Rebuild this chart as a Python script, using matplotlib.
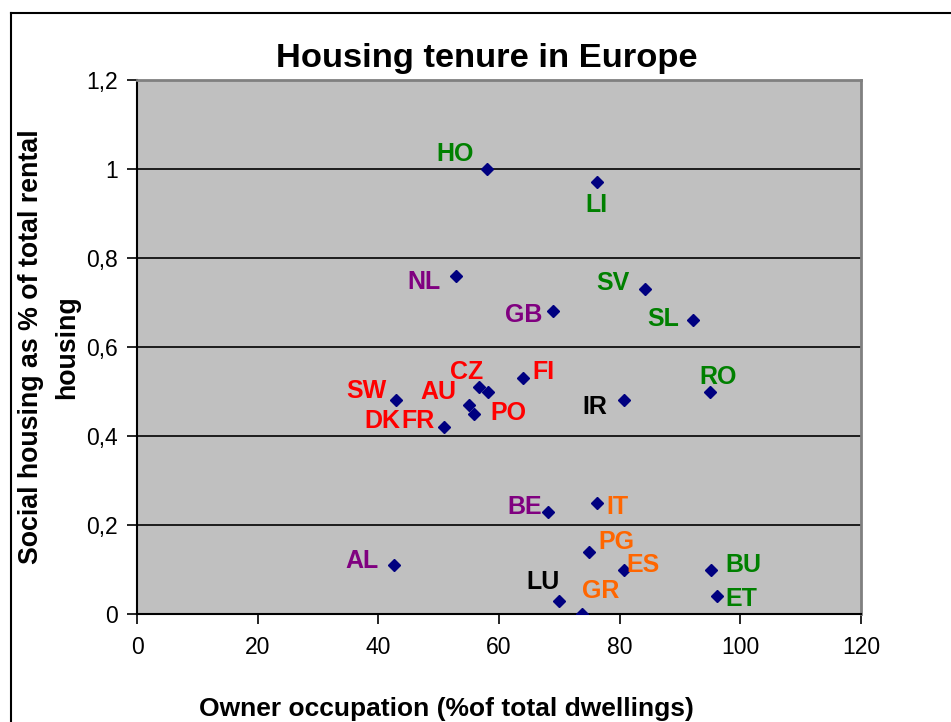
import matplotlib
matplotlib.use("Agg")
import matplotlib.pyplot as plt
from matplotlib.lines import Line2D

plt.rcParams['font.family'] = ['Liberation Sans', 'DejaVu Sans']

# ---- data ----
countries = ["HO", "LI", "NL", "SV", "GB", "SL", "FI", "CZ", "AU", "PO", "SW",
             "FR", "DK", "IR", "RO", "BE", "IT", "PG", "ES", "BU", "ET", "LU",
             "GR", "AL"]
owner = [58.0, 76.2, 52.9, 84.2, 69.0, 92.2, 63.9, 56.7, 55.1, 58.1, 42.9,
         55.9, 50.9, 80.7, 95.0, 68.2, 76.2, 74.9, 80.8, 95.1, 96.1, 69.9,
         73.7, 42.6]
social = [1.00, 0.97, 0.76, 0.73, 0.68, 0.66, 0.53, 0.51, 0.47, 0.50, 0.48,
          0.45, 0.42, 0.48, 0.50, 0.23, 0.25, 0.14, 0.10, 0.10, 0.04, 0.03,
          0.00, 0.11]
x_ticks = [0, 20, 40, 60, 80, 100, 120]
y_ticks = [0, 0.2, 0.4, 0.6, 0.8, 1.0, 1.2]
y_tick_labels = ["0", "0,2", "0,4", "0,6", "0,8", "1", "1,2"]

# ---- style / layout ----
GREEN, PURPLE, RED, BLACK, ORANGE = "#008000", "#800080", "#FF0000", "#000000", "#FF6600"
label_colors = {"HO": GREEN, "LI": GREEN, "SV": GREEN, "SL": GREEN, "RO": GREEN,
                "BU": GREEN, "ET": GREEN,
                "NL": PURPLE, "GB": PURPLE, "BE": PURPLE, "AL": PURPLE,
                "SW": RED, "DK": RED, "FR": RED, "AU": RED, "CZ": RED, "PO": RED, "FI": RED,
                "IR": BLACK, "LU": BLACK,
                "IT": ORANGE, "PG": ORANGE, "ES": ORANGE, "GR": ORANGE}
# label offsets in pixels (dx right, dy up) from each point
label_offsets = {"HO": (-32, 18), "LI": (0, -20), "NL": (-32, -3), "SV": (-32, 9),
                 "GB": (-30, -1), "SL": (-30, 4), "FI": (21, 9), "CZ": (-12, 18),
                 "AU": (-31, 16), "PO": (21, -18), "SW": (-29, 12), "FR": (-56, -4),
                 "DK": (-62, 9), "IR": (-29, -4), "RO": (8, 18), "BE": (-24, 8),
                 "IT": (21, -1), "PG": (27, 13), "ES": (19, 8), "BU": (33, 8),
                 "ET": (25, 0), "LU": (-16, 22), "GR": (19, 26), "AL": (-32, 7)}
LABEL_DY_CORR = -3  # compensate for descent in vertical centring

W, H = 951, 722
fig = plt.figure(figsize=(W / 100, H / 100), dpi=100)
fig.patch.set_facecolor("white")

x0, x1, ytop, ybot = 137, 861, 80, 614
ax = fig.add_axes([x0 / W, 1 - ybot / H, (x1 - x0) / W, (ybot - ytop) / H])
ax.set_facecolor("#C0C0C0")
ax.set_xlim(0, 120)
ax.set_ylim(0, 1.2)

for yv in y_ticks[1:-1]:
    ax.axhline(yv, color="black", lw=1.2, zorder=1)

ax.plot(owner, social, linestyle="none", marker="D", markersize=6.2,
        color="#000080", markeredgecolor="#000080", zorder=3)

for c, xv, yv in zip(countries, owner, social):
    dx, dy = label_offsets[c]
    ax.annotate(c, (xv, yv), xytext=(dx, dy + LABEL_DY_CORR), textcoords="offset pixels",
                ha="center", va="center", fontsize=18, fontweight="bold",
                color=label_colors[c], zorder=4, annotation_clip=False)

ax.set_xticks(x_ticks)
ax.set_xticklabels([str(v) for v in x_ticks])
ax.set_yticks(y_ticks)
ax.set_yticklabels(y_tick_labels)
ax.tick_params(axis="both", direction="out", length=7, width=1.2, labelsize=16.5,
               colors="black")
ax.tick_params(axis="x", pad=9)
ax.tick_params(axis="y", pad=7)

for s in ["left", "bottom"]:
    ax.spines[s].set_color("black")
    ax.spines[s].set_linewidth(1.5)
for s in ["top", "right"]:
    ax.spines[s].set_color("#808080")
    ax.spines[s].set_linewidth(2)

# title and axis labels
fig.text(487 / W, 1 - 67 / H, "Housing tenure in Europe", ha="center", va="baseline",
         fontsize=24.8, fontweight="bold")
fig.text(446 / W, 1 - 716 / H, "Owner occupation (%of total dwellings)", ha="center",
         va="baseline", fontsize=19, fontweight="bold")
fig.text(31.5 / W, 1 - 347 / H, "Social housing as % of total rental", rotation=90,
         ha="center", va="center", fontsize=19.3, fontweight="bold")
fig.text(67.5 / W, 1 - 347 / H, "housing", rotation=90,
         ha="center", va="center", fontsize=19.3, fontweight="bold")

# outer chart border (left and top edges visible)
fig.add_artist(Line2D([11 / W, 11 / W], [0, 1 - 13 / H], transform=fig.transFigure,
                      color="black", lw=1.5))
fig.add_artist(Line2D([11 / W, 1], [1 - 13 / H, 1 - 13 / H], transform=fig.transFigure,
                      color="black", lw=1.5))

fig.savefig("out.png", dpi=100)
